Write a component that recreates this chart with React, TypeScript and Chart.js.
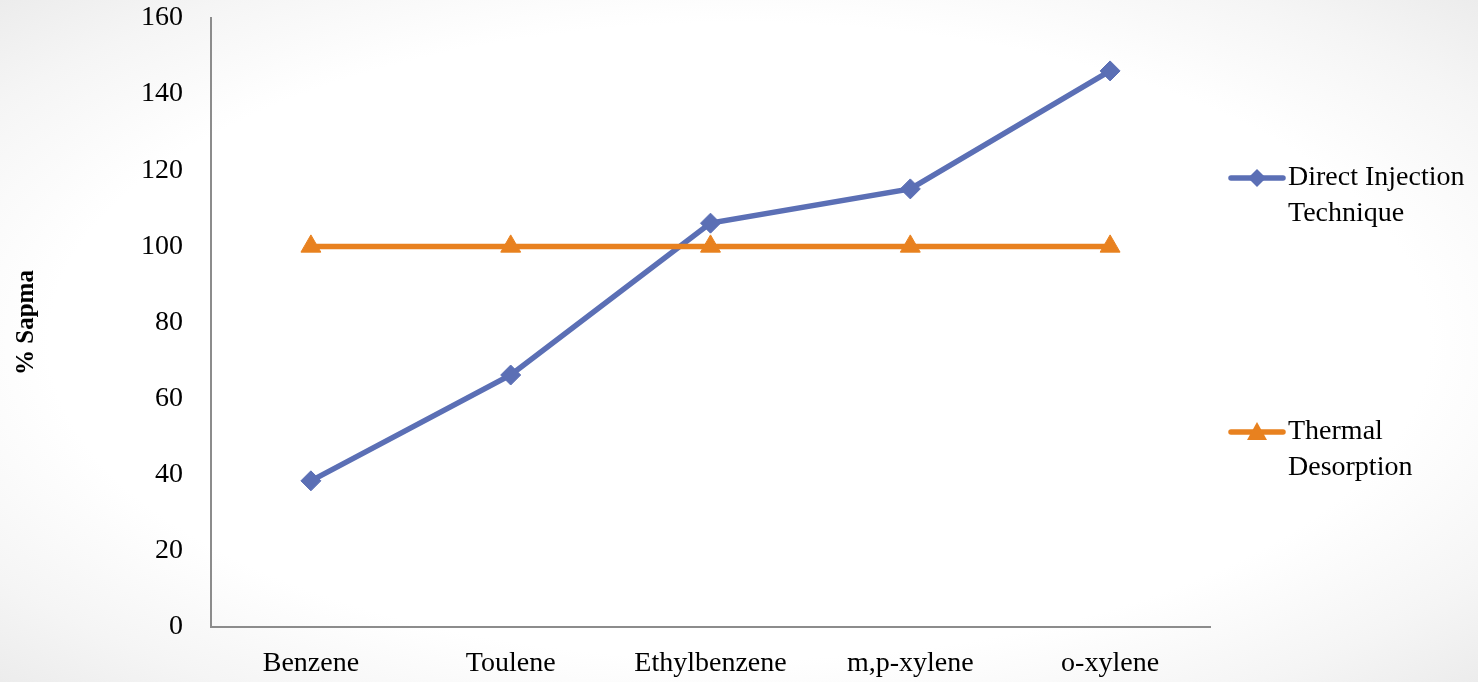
import React, { useEffect, useRef } from "react";
import { Chart, registerables } from "chart.js";

Chart.register(...registerables);

const categories = ["Benzene", "Toulene", "Ethylbenzene", "m,p-xylene", "o-xylene"];
const directInjection = [38.4, 66.2, 106.1, 115.1, 146.1];
const thermalDesorption = [100, 100, 100, 100, 100];
const seriesNames = [["Direct Injection", "Technique"], ["Thermal", "Desorption"]];
const yAxisTitle = "% Sapma";
const yMin = 0;
const yMax = 160;
const yStep = 20;

const BLUE = "#5B6FB5";
const ORANGE = "#E8811F";
const FONT = "'Liberation Serif', 'Times New Roman', serif";
const FONT_SIZE = 28;

const legendPlugin = {
  id: "sideLegend",
  afterDraw(chart: any) {
    const ctx = chart.ctx;
    const items = [
      { color: BLUE, style: "diamond", y: 178, lines: seriesNames[0] },
      { color: ORANGE, style: "triangle", y: 432, lines: seriesNames[1] },
    ];
    ctx.save();
    for (const it of items) {
      ctx.strokeStyle = it.color;
      ctx.fillStyle = it.color;
      ctx.lineWidth = 5.5;
      ctx.lineCap = "round";
      ctx.beginPath();
      ctx.moveTo(1231, it.y);
      ctx.lineTo(1283, it.y);
      ctx.stroke();
      const cx = 1257;
      ctx.beginPath();
      if (it.style === "diamond") {
        const r = 9;
        ctx.moveTo(cx, it.y - r);
        ctx.lineTo(cx + r, it.y);
        ctx.lineTo(cx, it.y + r);
        ctx.lineTo(cx - r, it.y);
      } else {
        const r = 10;
        ctx.moveTo(cx, it.y - r);
        ctx.lineTo(cx + r, it.y + r * 0.8);
        ctx.lineTo(cx - r, it.y + r * 0.8);
      }
      ctx.closePath();
      ctx.fill();
      ctx.fillStyle = "#000";
      ctx.font = `${FONT_SIZE}px ${FONT}`;
      ctx.textBaseline = "middle";
      ctx.textAlign = "left";
      it.lines.forEach((t: string, i: number) => {
        ctx.fillText(t, 1288, it.y + i * 36);
      });
    }
    ctx.restore();
  },
};

export default function App() {
  const ref = useRef<HTMLCanvasElement | null>(null);
  useEffect(() => {
    document.body.style.margin = "0";
    const chart = new Chart(ref.current!, {
      type: "line",
      data: {
        labels: categories,
        datasets: [
          {
            label: seriesNames[0].join(" "),
            data: directInjection,
            borderColor: BLUE,
            backgroundColor: BLUE,
            borderWidth: 5.5,
            pointStyle: "rectRot",
            pointRadius: 10,
            pointBorderWidth: 1,
            order: 1,
          },
          {
            label: seriesNames[1].join(" "),
            data: thermalDesorption,
            borderColor: ORANGE,
            backgroundColor: ORANGE,
            borderWidth: 5.5,
            pointStyle: "triangle",
            pointRadius: 11.5,
            pointBorderWidth: 1,
            order: 0,
          },
        ],
      },
      options: {
        responsive: false,
        animation: false,
        layout: { padding: { left: 0, right: 268, top: 18, bottom: 0 } },
        plugins: {
          legend: { display: false },
          tooltip: { enabled: false },
        },
        scales: {
          x: {
            offset: true,
            grid: { display: false, drawTicks: false },
            border: { display: true, color: "#8c8c8c", width: 2 },
            ticks: {
              color: "#000",
              font: { family: FONT, size: FONT_SIZE },
              padding: 20,
              maxRotation: 0,
            },
            afterFit(scale: any) {
              scale.height = 55;
              scale.paddingLeft = 0;
              scale.paddingRight = 0;
            },
          },
          y: {
            min: yMin,
            max: yMax,
            grid: { display: false, drawTicks: false },
            border: { display: true, color: "#8c8c8c", width: 2 },
            ticks: {
              stepSize: yStep,
              color: "#000",
              font: { family: FONT, size: FONT_SIZE },
              padding: 28,
            },
            title: {
              display: true,
              text: yAxisTitle,
              color: "#000",
              font: { family: FONT, size: 25, weight: "bold" },
              padding: { top: 12, bottom: 0 },
            },
            afterFit(scale: any) {
              scale.width = 211;
              scale.paddingTop = 0;
              scale.paddingBottom = 0;
            },
          },
        },
      },
      plugins: [legendPlugin],
    });
    return () => chart.destroy();
  }, []);
  return (
    <div
      style={{
        position: "absolute",
        left: 0,
        top: 0,
        width: 1478,
        height: 682,
        background:
          "radial-gradient(ellipse at 50% 50%, #ffffff 66%, #f5f5f5 86%, #ececec 100%)",
      }}
    >
      <canvas ref={ref} width={1478} height={682} style={{ display: "block" }} />
    </div>
  );
}
